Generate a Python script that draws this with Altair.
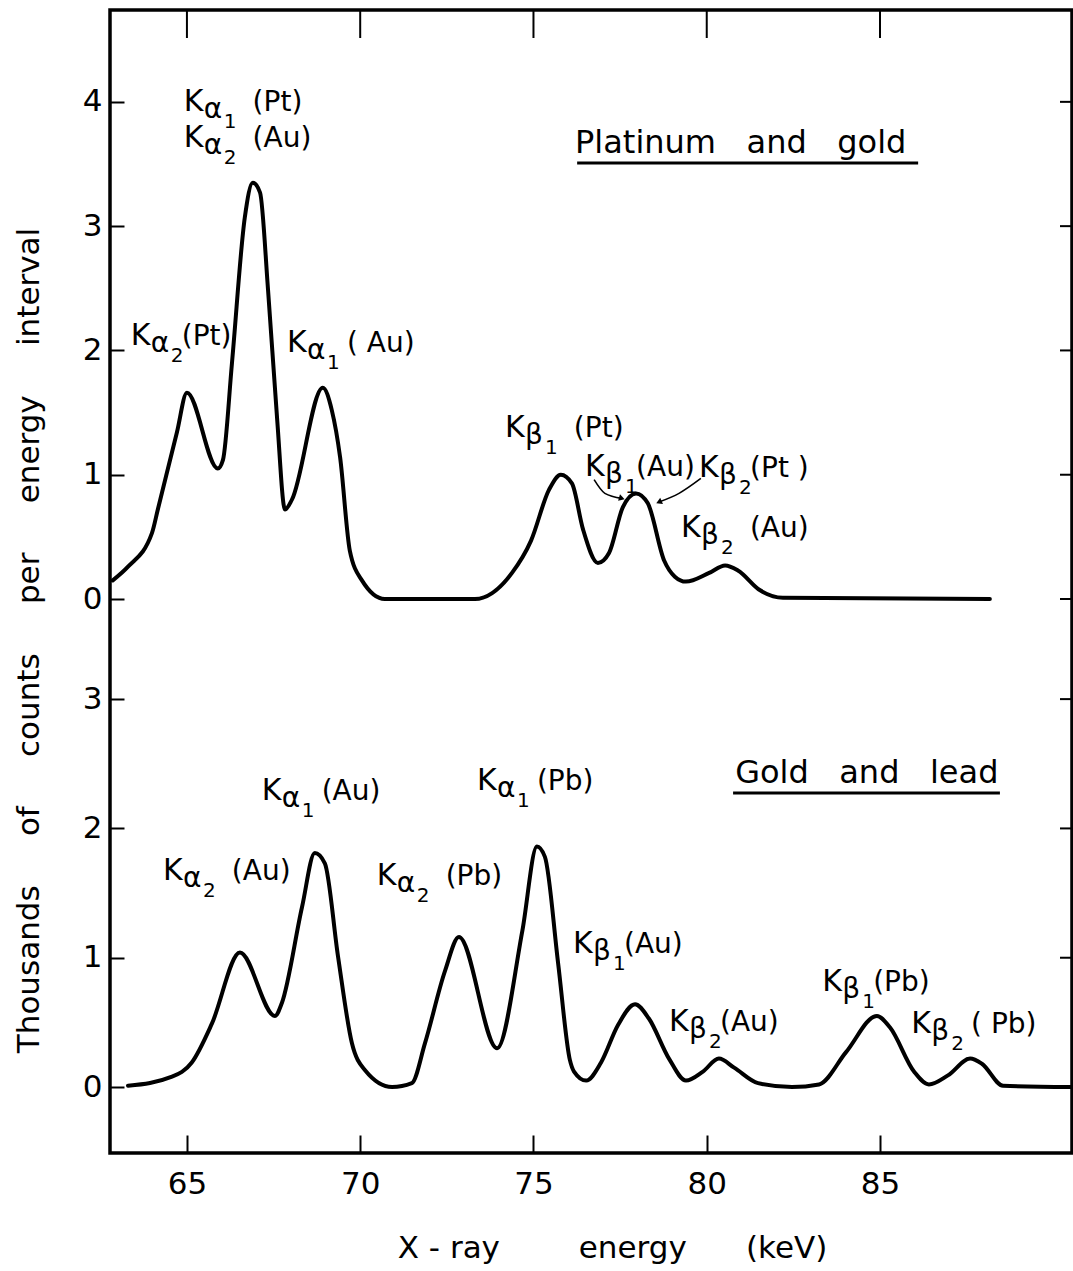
import altair as alt
import pandas as pd

# ---------------- data ----------------
x_ticks = [65, 70, 75, 80, 85]
upper_ticks = [0, 1, 2, 3, 4]
lower_ticks = [0, 1, 2, 3]

# Platinum and gold spectrum (keV, thousands of counts)
upper_kev = [62.86, 63.30, 63.99, 64.16, 64.71, 65.00, 65.89, 66.04, 66.30,
             66.67, 66.90, 67.11, 67.34, 67.60, 67.83, 68.03, 68.92, 69.18,
             69.42, 69.70, 70.05, 70.71, 72.16, 73.31, 74.38, 74.93, 75.45, 75.79,
             76.11, 76.43, 76.86, 77.18, 77.58, 77.96, 78.30, 78.77, 79.08, 79.40,
             80.07, 80.53, 80.90, 81.54, 82.20, 88.17]
upper_counts = [0.15, 0.26, 0.53, 0.72, 1.34, 1.66, 1.05, 1.12, 1.90,
                3.07, 3.35, 3.27, 2.49, 1.46, 0.72, 0.80, 1.70, 1.52,
                1.14, 0.39, 0.15, 0.0, 0.0, 0.0, 0.21, 0.47, 0.88, 1.00,
                0.93, 0.56, 0.29, 0.37, 0.74, 0.85, 0.77, 0.31, 0.18, 0.14,
                0.21, 0.27, 0.23, 0.07, 0.01, 0.0]

# Gold and lead spectrum
lower_kev = [63.30, 64.57, 65.14, 65.72, 66.53, 67.54, 67.74, 68.32, 68.69,
             68.98, 69.36, 69.76, 70.14, 70.92, 71.49, 71.87, 72.45, 72.85,
             73.95, 74.68, 75.10, 75.33, 75.71, 76.05, 76.17, 76.52, 76.95,
             77.44, 77.93, 78.33, 78.91, 79.40, 79.89, 80.35, 80.79, 81.48, 82.46,
             83.24, 84.02, 84.91, 85.29, 85.98, 86.41, 86.96, 87.60, 87.94, 88.55,
             90.50]
lower_counts = [0.01, 0.08, 0.19, 0.49, 1.04, 0.55, 0.65, 1.39, 1.81,
                1.73, 1.01, 0.34, 0.13, 0.0, 0.03, 0.34, 0.90, 1.16,
                0.30, 1.21, 1.86, 1.78, 0.96, 0.21, 0.12, 0.05, 0.19,
                0.48, 0.64, 0.53, 0.22, 0.05, 0.12, 0.22, 0.15, 0.03, 0.0,
                0.02, 0.27, 0.55, 0.46, 0.12, 0.02, 0.09, 0.22, 0.18, 0.01,
                0.0]

NB = "\u00a0"
WJ = "\u2060"  # invisible joiner, keeps leading spaces from being trimmed
# peak labels (position of the "K", in data units)
u_lab_x = [64.91, 64.91, 63.38, 67.89, 74.18, 76.49, 79.78, 79.26]
u_lab_y = [3.93, 3.64, 2.04, 1.99, 1.30, 0.99, 0.98, 0.50]
u_lab_greek = ["α", "α", "α", "α", "β", "β", "β", "β"]
u_lab_sub = ["1", "2", "2", "1", "1", "1", "2", "2"]
u_lab_suffix = [WJ + NB * 2 + "(Pt)", WJ + NB * 2 + "(Au)", "(Pt)", WJ + NB + "(" + NB + "Au)",
                WJ + NB * 2 + "(Pt)", "(Au)", "(Pt" + NB + ")", WJ + NB * 2 + "(Au)"]

l_lab_x = [64.31, 67.16, 70.48, 73.37, 76.14, 78.91, 83.33, 85.90]
l_lab_y = [1.60, 2.22, 1.56, 2.30, 1.04, 0.43, 0.74, 0.42]
l_lab_greek = ["α", "α", "α", "α", "β", "β", "β", "β"]
l_lab_sub = ["2", "1", "2", "1", "1", "2", "1", "2"]
l_lab_suffix = [WJ + NB * 2 + "(Au)", WJ + NB + "(Au)", WJ + NB * 2 + "(Pb)", WJ + NB + "(Pb)",
                "(Au)", "(Au)", "(Pb)", WJ + NB + "(" + NB + "Pb)"]

# arrows pointing to the Kβ1(Au)/Kβ2(Pt) peak
arrow1_kev = [76.75, 77.06, 77.55]
arrow1_v = [0.96, 0.85, 0.81]
arrow2_kev = [79.83, 79.20, 78.62]
arrow2_v = [0.97, 0.85, 0.78]

upper_title = "Platinum" + NB * 3 + "and" + NB * 3 + "gold"
upper_title_pos = (76.20, 3.59)
upper_line_span = (76.26, 86.10, 3.508)
lower_title = "Gold" + NB * 3 + "and" + NB * 3 + "lead"
lower_title_pos = (80.82, 2.35)
lower_line_span = (80.76, 88.46, 2.274)

x_title = "X - ray" + NB * 8 + "energy" + NB * 6 + "(keV)"
y_title = ("Thousands" + NB * 5 + "of" + NB * 5 + "counts" + NB * 5 + "per" + NB * 5
           + "energy" + NB * 5 + "interval")

# ---------------- chart ----------------
FONT = "DejaVu Sans"
W, H = 962, 1143
X_DOM = [62.78, 90.54]
U_DOM = [-4.457, 4.739]
L_DOM = [-0.510, 8.329]

x_axis = alt.Axis(values=x_ticks, format="d", orient="bottom", offset=-18, tickSize=18,
                  tickWidth=2, tickColor="black", domain=False, grid=False, labelFont=FONT,
                  labelFontSize=31, labelColor="black", labelPadding=16,
                  title=x_title, titleFont=FONT, titleFontSize=31, titleFontWeight="normal",
                  titleColor="black", titleX=502, titleY=122, titleAlign="center",
                  titleBaseline="alphabetic")

u_axis = alt.Axis(values=upper_ticks, format="d", orient="left", offset=-14, tickSize=14,
                  tickWidth=2, tickColor="black", domain=False, grid=False, labelFont=FONT,
                  labelFontSize=31, labelColor="black", labelPadding=8,
                  title=y_title, titleFont=FONT, titleFontSize=31, titleFontWeight="normal",
                  titleColor="black", titleX=-95, titleY=630, titleAngle=270,
                  titleAlign="center", titleBaseline="middle")

l_axis = alt.Axis(values=lower_ticks, format="d", orient="left", offset=-14, tickSize=14,
                  tickWidth=2, tickColor="black", domain=False, grid=False, labelFont=FONT,
                  labelFontSize=31, labelColor="black", labelPadding=8, title=None)


def X(field):
    # every layer carries the same x axis so that they merge into one
    return alt.X(f"{field}:Q", scale=alt.Scale(domain=X_DOM, nice=False, zero=False), axis=x_axis)


def Y(field, dom, axis=None):
    return alt.Y(f"{field}:Q", scale=alt.Scale(domain=dom, nice=False, zero=False), axis=axis)


def curve(kev, counts, dom, axis):
    df = pd.DataFrame({"kev": kev, "v": counts})
    return alt.Chart(df).mark_line(color="black", strokeWidth=4, interpolate="monotone",
                                   strokeJoin="round", strokeCap="round").encode(
        x=X("kev"), y=Y("v", dom, axis))


def labels(xv, yv, greek, sub, suffix, dom):
    df = pd.DataFrame({"kev": xv, "y": yv, "greek": greek, "sub": sub, "suffix": suffix})
    base = alt.Chart(df).encode(x=X("kev"), y=Y("y", dom))
    common = dict(align="left", baseline="alphabetic", font=FONT, color="black")
    k = base.mark_text(text="K", fontSize=30, **common)
    g = base.mark_text(fontSize=28, dx=20, dy=7, **common).encode(text="greek:N")
    s = base.mark_text(fontSize=20, dx=40, dy=17, **common).encode(text="sub:N")
    f = base.mark_text(fontSize=28, dx=51, **common).encode(text="suffix:N")
    return [k, g, s, f]


def heading(text, pos, span, dom):
    tdf = pd.DataFrame({"kev": [pos[0]], "y": [pos[1]], "t": [text]})
    t = alt.Chart(tdf).mark_text(align="left", baseline="alphabetic", font=FONT,
                                 fontSize=32, color="black").encode(
        x=X("kev"), y=Y("y", dom), text="t:N")
    ldf = pd.DataFrame({"kev": [span[0]], "kev2": [span[1]], "y": [span[2]]})
    r = alt.Chart(ldf).mark_rule(color="black", strokeWidth=3).encode(
        x=X("kev"), x2="kev2:Q", y=Y("y", dom))
    return [t, r]


def right_ticks(vals, dom):
    df = pd.DataFrame({"v": vals})
    return alt.Chart(df).mark_rule(color="black", strokeWidth=2).encode(
        y=Y("v", dom), x=alt.value(W - 12), x2=alt.value(W))


def arrow(kev, v, shape, angle, dom):
    df = pd.DataFrame({"kev": kev, "v": v})
    ln = alt.Chart(df).mark_line(color="black", strokeWidth=1.6, interpolate="monotone").encode(
        x=X("kev"), y=Y("v", dom))
    tip = alt.Chart(df.tail(1)).mark_point(shape=shape, filled=True, size=45, angle=angle,
                                           color="black", opacity=1).encode(
        x=X("kev"), y=Y("v", dom))
    return [ln, tip]


top_ticks = alt.Chart(pd.DataFrame({"kev": x_ticks})).mark_rule(
    color="black", strokeWidth=2).encode(x=X("kev"), y=alt.value(0), y2=alt.value(28))

layers = [
    curve(upper_kev, upper_counts, U_DOM, u_axis),
    curve(lower_kev, lower_counts, L_DOM, l_axis),
    *labels(u_lab_x, u_lab_y, u_lab_greek, u_lab_sub, u_lab_suffix, U_DOM),
    *labels(l_lab_x, l_lab_y, l_lab_greek, l_lab_sub, l_lab_suffix, L_DOM),
    *heading(upper_title, upper_title_pos, upper_line_span, U_DOM),
    *heading(lower_title, lower_title_pos, lower_line_span, L_DOM),
    *arrow(arrow1_kev, arrow1_v, "triangle-right", 16, U_DOM),
    *arrow(arrow2_kev, arrow2_v, "triangle-left", 336, U_DOM),
    right_ticks(upper_ticks, U_DOM),
    right_ticks(lower_ticks, L_DOM),
    top_ticks,
]

chart = alt.layer(*layers).resolve_scale(y="independent").properties(
    width=W, height=H,
    autosize=alt.AutoSizeParams(type="none"),
    padding={"left": 110, "top": 10, "right": 1, "bottom": 118},
    background="white",
).configure_view(stroke="black", strokeWidth=3.5)

chart.save("out.html", embed_options={"renderer": "svg", "actions": False})
